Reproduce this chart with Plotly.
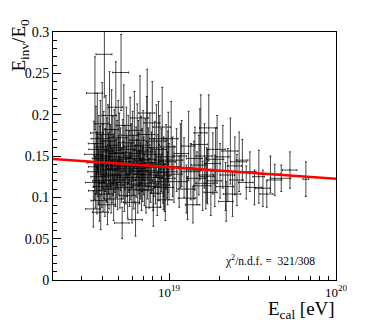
import numpy as np
import plotly.graph_objects as go

# E_cal in units of 1e18 eV, E_inv/E_0, its error, relative error on E_cal
e_cal_a = [3.52, 3.55, 3.58, 3.6, 3.62, 3.65, 3.68, 3.7, 3.72, 3.75, 3.78, 3.8, 3.83, 3.86, 3.88, 3.9, 3.93,
           3.96, 3.98, 4.0, 4.03, 4.06, 4.08, 4.1, 4.13, 4.16, 4.19, 4.22, 4.25, 4.28, 4.31, 4.34, 4.37, 4.4,
           4.43, 4.46, 4.5, 4.53, 4.56, 4.6, 4.63, 4.66, 4.7, 4.73, 4.77, 4.8, 4.84, 4.88, 4.92, 4.96]
ratio_a = [0.086, 0.152, 0.131, 0.226, 0.118, 0.165, 0.142, 0.108, 0.178, 0.137, 0.125, 0.158, 0.096, 0.147,
           0.171, 0.082, 0.139, 0.120, 0.189, 0.150, 0.113, 0.161, 0.134, 0.273, 0.104, 0.145, 0.176, 0.128,
           0.155, 0.091, 0.168, 0.141, 0.117, 0.199, 0.133, 0.149, 0.110, 0.182, 0.126, 0.157, 0.138, 0.098,
           0.163, 0.144, 0.121, 0.209, 0.135, 0.153, 0.115, 0.172]
ratio_err_a = [0.022, 0.040, 0.034, 0.044, 0.031, 0.045, 0.037, 0.028, 0.048, 0.036, 0.033, 0.041, 0.025, 0.039,
               0.046, 0.021, 0.036, 0.032, 0.050, 0.039, 0.030, 0.043, 0.035, 0.052, 0.027, 0.038, 0.047, 0.034,
               0.041, 0.024, 0.044, 0.037, 0.031, 0.053, 0.035, 0.039, 0.029, 0.048, 0.033, 0.041, 0.036, 0.026,
               0.043, 0.038, 0.032, 0.055, 0.035, 0.040, 0.030, 0.045]
e_rel_a = [0.10, 0.12, 0.09, 0.11, 0.13, 0.10, 0.12, 0.11, 0.09, 0.12, 0.10, 0.13, 0.11, 0.10, 0.12, 0.11, 0.09,
           0.12, 0.10, 0.11, 0.13, 0.10, 0.09, 0.11, 0.12, 0.10, 0.11, 0.13, 0.09, 0.12, 0.10, 0.11, 0.12, 0.10,
           0.09, 0.13, 0.11, 0.10, 0.12, 0.11, 0.10, 0.12, 0.09, 0.11, 0.13, 0.10, 0.12, 0.11, 0.10, 0.12]

e_cal_b = [5.0, 5.04, 5.08, 5.12, 5.16, 5.2, 5.24, 5.28, 5.32, 5.36, 5.4, 5.45, 5.5, 5.55, 5.6, 5.65, 5.7, 5.75,
           5.8, 5.85, 5.9, 5.95, 6.0, 6.05, 6.1, 6.15, 6.2, 6.25, 6.3, 6.35, 6.4, 6.45, 6.5, 6.55, 6.6, 6.65, 6.7,
           6.75, 6.8, 6.85, 6.9, 6.95, 7.0]
ratio_b = [0.139, 0.160, 0.118, 0.146, 0.251, 0.127, 0.069, 0.154, 0.133, 0.187, 0.112, 0.148, 0.124, 0.166,
           0.137, 0.102, 0.158, 0.143, 0.121, 0.175, 0.131, 0.150, 0.094, 0.162, 0.139, 0.116, 0.181, 0.128,
           0.073, 0.147, 0.135, 0.169, 0.109, 0.153, 0.141, 0.124, 0.196, 0.132, 0.157, 0.114, 0.145, 0.128, 0.163]
ratio_err_b = [0.036, 0.042, 0.031, 0.038, 0.046, 0.033, 0.019, 0.040, 0.035, 0.049, 0.029, 0.039, 0.032, 0.043,
               0.036, 0.027, 0.041, 0.037, 0.032, 0.046, 0.034, 0.039, 0.025, 0.042, 0.036, 0.030, 0.047, 0.034,
               0.020, 0.038, 0.035, 0.044, 0.028, 0.040, 0.037, 0.032, 0.051, 0.034, 0.041, 0.030, 0.038, 0.033,
               0.042]
e_rel_b = [0.11, 0.10, 0.12, 0.09, 0.11, 0.12, 0.10, 0.11, 0.13, 0.10, 0.12, 0.09, 0.11, 0.10, 0.12, 0.11, 0.10,
           0.13, 0.09, 0.11, 0.12, 0.10, 0.11, 0.12, 0.10, 0.09, 0.11, 0.12, 0.10, 0.11, 0.13, 0.10, 0.12, 0.09,
           0.11, 0.10, 0.12, 0.11, 0.10, 0.12, 0.09, 0.11, 0.10]

e_cal_c = [7.05, 7.12, 7.2, 7.28, 7.36, 7.44, 7.52, 7.6, 7.68, 7.76, 7.85, 7.94, 8.03, 8.12, 8.21, 8.3, 8.4, 8.5,
           8.6, 8.7, 8.8, 8.9, 9.0, 9.1, 9.2, 9.3, 9.4, 9.5, 9.6, 9.7, 9.8, 9.9, 10.0, 7.4, 8.05, 8.65, 9.25, 9.85]
ratio_c = [0.138, 0.121, 0.155, 0.109, 0.176, 0.132, 0.146, 0.117, 0.160, 0.127, 0.142, 0.190, 0.113, 0.136,
           0.152, 0.124, 0.168, 0.105, 0.140, 0.130, 0.158, 0.119, 0.145, 0.185, 0.126, 0.137, 0.112, 0.097,
           0.149, 0.134, 0.123, 0.161, 0.131, 0.202, 0.088, 0.171, 0.115, 0.143]
ratio_err_c = [0.035, 0.031, 0.040, 0.028, 0.046, 0.034, 0.038, 0.030, 0.042, 0.033, 0.037, 0.050, 0.029, 0.035,
               0.040, 0.032, 0.044, 0.027, 0.036, 0.034, 0.041, 0.031, 0.038, 0.048, 0.033, 0.036, 0.029, 0.025,
               0.039, 0.035, 0.032, 0.042, 0.034, 0.053, 0.023, 0.045, 0.030, 0.037]
e_rel_c = [0.10, 0.12, 0.11, 0.09, 0.12, 0.10, 0.11, 0.13, 0.10, 0.12, 0.09, 0.11, 0.10, 0.12, 0.11, 0.10, 0.13,
           0.09, 0.11, 0.12, 0.10, 0.11, 0.09, 0.12, 0.10, 0.11, 0.13, 0.10, 0.12, 0.09, 0.11, 0.10, 0.12, 0.11,
           0.10, 0.12, 0.09, 0.11]

e_cal_d = [10.3, 10.7, 11.1, 11.5, 11.9, 12.3, 12.7, 13.1, 13.5, 13.9, 14.3, 14.7, 15.1, 15.5, 15.9, 16.3, 16.8,
           17.3, 17.8, 18.3, 18.8, 19.4, 10.5, 11.7, 12.9, 14.1, 15.3, 16.6, 17.0, 19.0]
ratio_d = [0.171, 0.128, 0.145, 0.119, 0.153, 0.136, 0.110, 0.162, 0.131, 0.091, 0.147, 0.123, 0.139, 0.178,
           0.114, 0.150, 0.127, 0.184, 0.106, 0.141, 0.120, 0.158, 0.137, 0.150, 0.099, 0.133, 0.164, 0.117,
           0.125, 0.146]
ratio_err_d = [0.045, 0.034, 0.038, 0.031, 0.040, 0.036, 0.029, 0.042, 0.034, 0.022, 0.038, 0.032, 0.036, 0.046,
               0.030, 0.039, 0.033, 0.040, 0.028, 0.037, 0.031, 0.041, 0.036, 0.039, 0.026, 0.035, 0.043, 0.031,
               0.033, 0.038]
e_rel_d = [0.10, 0.12, 0.09, 0.11, 0.10, 0.12, 0.11, 0.09, 0.12, 0.10, 0.11, 0.13, 0.10, 0.09, 0.12, 0.11, 0.10,
           0.12, 0.09, 0.11, 0.10, 0.12, 0.11, 0.09, 0.12, 0.10, 0.11, 0.13, 0.10, 0.12]

e_cal_e = [20.2, 21.0, 21.8, 22.5, 23.3, 24.0, 24.8, 25.5, 26.3, 22.0,
           27.5, 29.0, 30.5, 32.5, 34.5, 36.5, 38.5, 40.5, 43.0, 47.0, 53.0, 66.0]
ratio_e = [0.132, 0.149, 0.113, 0.127, 0.156, 0.104, 0.138, 0.121, 0.143, 0.095,
           0.145, 0.118, 0.131, 0.112, 0.125, 0.111, 0.104, 0.128, 0.121, 0.123, 0.133, 0.122]
ratio_err_e = [0.033, 0.038, 0.029, 0.032, 0.040, 0.027, 0.035, 0.031, 0.036, 0.024,
               0.025, 0.020, 0.024, 0.021, 0.032, 0.022, 0.016, 0.022, 0.019, 0.016, 0.022, 0.021]
e_rel_e = [0.11, 0.09, 0.12, 0.10, 0.11, 0.12, 0.10, 0.09, 0.11, 0.10,
           0.08, 0.10, 0.09, 0.11, 0.08, 0.10, 0.09, 0.15, 0.10, 0.14, 0.10, 0.04]

# linear fit in log10(E/1e18)
fit_p0 = 0.1507
fit_p1 = -0.01406
chi2_text = "χ<sup>2</sup>/n.d.f. =  321/308"

x_range = [18.305, 20.0]

e_cal = np.array(e_cal_a + e_cal_b + e_cal_c + e_cal_d + e_cal_e) * 1e18
ratio = np.array(ratio_a + ratio_b + ratio_c + ratio_d + ratio_e)
ratio_err = np.array(ratio_err_a + ratio_err_b + ratio_err_c + ratio_err_d + ratio_err_e)
e_rel = np.array(e_rel_a + e_rel_b + e_rel_c + e_rel_d + e_rel_e)

FONT = "Liberation Serif, Times New Roman, serif"
bar_col = "rgba(0,0,0,0.72)"

fig = go.Figure()

fig.add_trace(go.Scatter(
    x=e_cal, y=ratio, mode='markers',
    marker=dict(size=1, color='black'),
    error_x=dict(type='data', array=e_cal * e_rel, arrayminus=e_cal * e_rel,
                 color=bar_col, thickness=1, width=1),
    error_y=dict(type='data', array=ratio_err, color=bar_col, thickness=1, width=1),
    showlegend=False, hoverinfo='skip'
))

# fit line across the full x range
fit_x = np.array([10.0 ** x_range[0], 10.0 ** x_range[1]])
fit_y = fit_p0 + fit_p1 * np.log10(fit_x / 1e18)
fig.add_trace(go.Scatter(
    x=fit_x, y=fit_y, mode='lines',
    line=dict(color='#ff0000', width=2.5),
    showlegend=False, hoverinfo='skip'
))

minor_x = [k * 10.0 ** p for p in (18, 19) for k in range(2, 10)]

# page body has an 8px margin, so the figure is 8px smaller than the window
fig.update_layout(
    width=366, height=317,
    margin=dict(l=45, r=38, t=24, b=45),
    paper_bgcolor='white', plot_bgcolor='white',
    font=dict(family=FONT, color='black', size=14),
    xaxis=dict(
        type='log', range=x_range,
        showgrid=False, zeroline=False,
        showline=True, linecolor='black', linewidth=1, mirror=True,
        ticks='inside', ticklen=7, tickcolor='black',
        tickvals=[1e19, 1e20], ticktext=['10<sup>19</sup>', '10<sup>20</sup>'],
        tickfont=dict(size=13),
        minor=dict(tickvals=minor_x, ticks='inside', ticklen=4, tickcolor='black', showgrid=False),
    ),
    yaxis=dict(
        range=[0, 0.3],
        showgrid=False, zeroline=False,
        showline=True, linecolor='black', linewidth=1, mirror=True,
        ticks='inside', ticklen=8, tickcolor='black',
        tickvals=[0, 0.05, 0.1, 0.15, 0.2, 0.25, 0.3],
        ticktext=['0', '0.05', '0.1', '0.15', '0.2', '0.25', '0.3'],
        tickfont=dict(size=14),
        minor=dict(dtick=0.01, ticks='inside', ticklen=4, tickcolor='black', showgrid=False),
    ),
)

fig.add_annotation(
    text="E<sub>inv</sub>/E<sub>0</sub>", textangle=-90,
    xref='paper', yref='paper', x=-0.118, y=0.948,
    xanchor='center', yanchor='middle', showarrow=False,
    font=dict(family=FONT, size=19),
)
fig.add_annotation(
    text="E<sub>cal</sub> [eV]",
    xref='paper', yref='paper', x=1.004, y=-0.122,
    xanchor='right', yanchor='middle', showarrow=False,
    font=dict(family=FONT, size=19),
)
fig.add_annotation(
    text=chi2_text,
    xref='paper', yref='paper', x=0.6, y=0.077,
    xanchor='left', yanchor='middle', showarrow=False,
    font=dict(family=FONT, size=11.5),
)

fig.write_html("out.html")
